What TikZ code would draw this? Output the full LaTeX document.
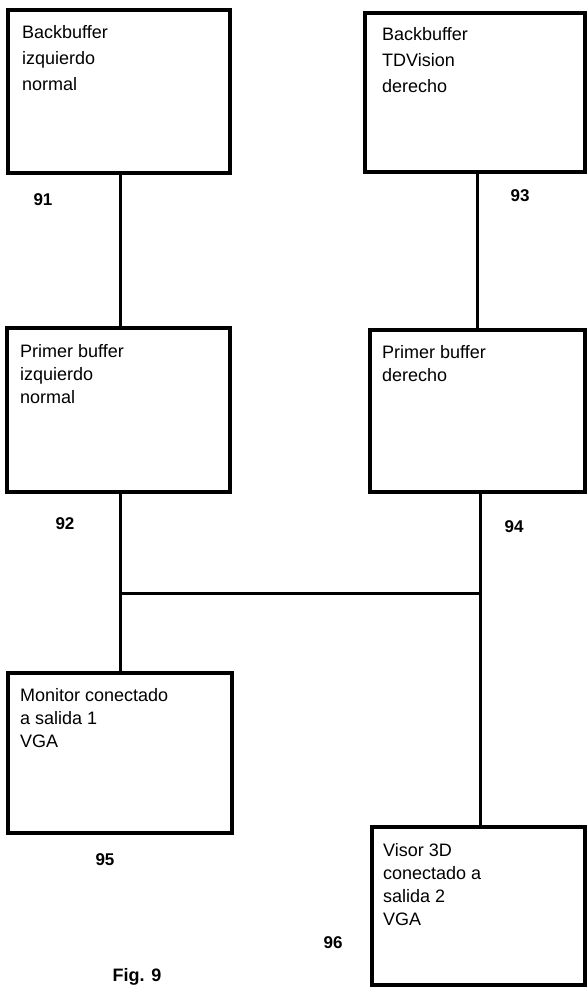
\documentclass[tikz,border=0pt]{standalone}
\usepackage{fontspec}
\setmainfont{Liberation Sans}
\begin{document}
\begin{tikzpicture}[x=1pt,y=-1pt,
  boxnode/.style={draw=black,line width=3.2pt,fill=white,rectangle,inner sep=0pt,outer sep=0pt,anchor=north west},
  boxtext/.style={anchor=north west,inner sep=0pt,align=left,font=\fontsize{18}{23}\selectfont},
  boxtextwide/.style={anchor=north west,inner sep=0pt,align=left,font=\fontsize{18}{26}\selectfont},
  numlabel/.style={inner sep=0pt,font=\fontsize{17}{17}\selectfont\bfseries},
  wire/.style={draw=black,line width=3pt}]
\useasboundingbox (0,0) rectangle (587,990);
% boxes
\node[boxnode,minimum width=222pt,minimum height=163pt] (b1) at (8,10) {};
\node[boxnode,minimum width=220pt,minimum height=159pt] (b2) at (365,13) {};
\node[boxnode,minimum width=223pt,minimum height=164pt] (b3) at (7,328) {};
\node[boxnode,minimum width=215pt,minimum height=162pt] (b4) at (370,330) {};
\node[boxnode,minimum width=224pt,minimum height=160pt] (b5) at (8,673) {};
\node[boxnode,minimum width=213pt,minimum height=158pt] (b6) at (372,827) {};
% texts
\node[boxtextwide] (t1) at (22,25) {Backbuffer\\izquierdo\\normal};
\node[boxtextwide] (t2) at (382,27) {Backbuffer\\TDVision\\derecho};
\node[boxtext] (t3) at (20,344) {Primer buffer\\izquierdo\\normal};
\node[boxtext] (t4) at (382,345) {Primer buffer\\derecho};
\node[boxtext] (t5) at (20,688) {Monitor conectado\\a salida 1\\VGA};
\node[boxtext] (t6) at (383,843) {Visor 3D\\conectado a\\salida 2\\VGA};
% reference numbers
\node[numlabel] (n91) at (43,200) {91};
\node[numlabel] (n93) at (520,196) {93};
\node[numlabel] (n92) at (65,524) {92};
\node[numlabel] (n94) at (514,527) {94};
\node[numlabel] (n95) at (105,860) {95};
\node[numlabel] (n96) at (333,943) {96};
\node[inner sep=0pt,font=\fontsize{18}{18}\selectfont\bfseries] (fig) at (137,977) {Fig. 9};
% connectors
\coordinate (jl) at (120,593);
\coordinate (jr) at (480,593);
\draw[wire] (b1.south -| jl) -- (b3.north -| jl);
\draw[wire] (477,0 |- b2.south) -- (477,0 |- b4.north);
\draw[wire] (b3.south -| jl) -- (b5.north -| jl);
\draw[wire] (b4.south -| jr) -- (b6.north -| jr);
\draw[wire] (jl) -- (jr);
\end{tikzpicture}
\end{document}
